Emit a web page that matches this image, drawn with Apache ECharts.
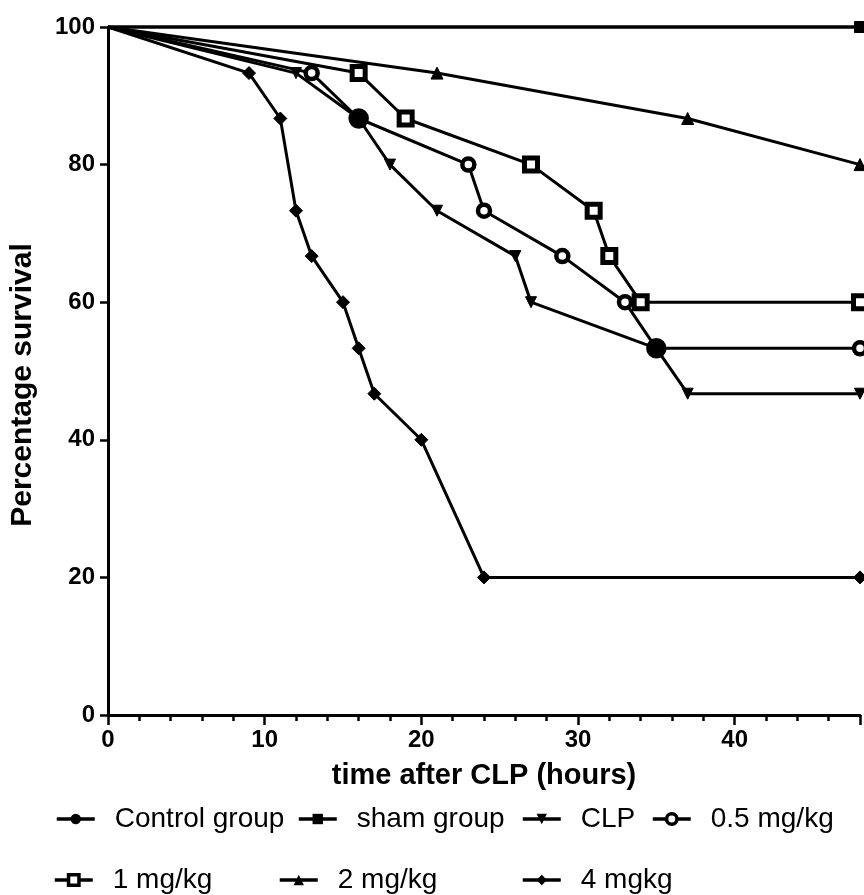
<!DOCTYPE html>
<html><head><meta charset="utf-8">
<script src="https://cdn.jsdelivr.net/npm/echarts@6/dist/echarts.min.js"></script>
<style>html,body{margin:0;padding:0;background:#fff}#c{width:864px;height:895px}</style>
</head><body><div id="c"></div>
<script>
var seriesNames = ['Control group','sham group','CLP','0.5 mg/kg','1 mg/kg','2 mg/kg','4 mgkg'];
var controlX = [0,48], controlY = [100,100];
var shamX = [0,48], shamY = [100,100];
var clpX = [0,12,16,18,21,26,27,35,37,48];
var clpY = [100,93.3,86.7,80,73.3,66.7,60,53.3,46.7,46.7];
var d05X = [0,13,16,23,24,29,33,35,48];
var d05Y = [100,93.3,86.7,80,73.3,66.7,60,53.3,53.3];
var d1X = [0,16,19,27,31,32,34,48];
var d1Y = [100,93.3,86.7,80,73.3,66.7,60,60];
var d2X = [0,21,37,48];
var d2Y = [100,93.3,86.7,80];
var d4X = [0,9,11,12,13,15,16,17,20,24,48];
var d4Y = [100,93.3,86.7,73.3,66.7,60,53.3,46.7,40,20,20];
var xTicks = [0,10,20,30,40];
var yTicks = [0,20,40,60,80,100];

var FONT = 'Liberation Sans, Arial, sans-serif';
function pts(xs, ys, overlapX, overlapY) {
  return xs.map(function (x, i) {
    var p = {value: [x, ys[i]]};
    if (i === 0) p.symbolSize = 0;
    if (overlapX) {
      for (var k = 0; k < overlapX.length; k++) {
        if (overlapX[k] === x && overlapY[k] === ys[i] && i > 0 && i < xs.length - 1) {
          p.itemStyle = {color: '#000'};
          p.symbolSize = 16;
        }
      }
    }
    return p;
  });
}
var lineStyle = {color: '#000', width: 3};
function mk(name, xs, ys, symbol, size, extra, ov) {
  var s = {
    name: name, type: 'line', data: pts(xs, ys, ov && ov[0], ov && ov[1]),
    symbol: symbol, symbolSize: size, clip: false,
    lineStyle: lineStyle, itemStyle: {color: '#000', borderColor: '#000'},
    animation: false, z: 3
  };
  if (extra) for (var k in extra) s[k] = extra[k];
  return s;
}
var series = [
  mk(seriesNames[0], controlX, controlY, 'circle', 10),
  mk(seriesNames[1], shamX, shamY, 'rect', 11),
  mk(seriesNames[2], clpX, clpY, 'triangle', 11, {symbolRotate: 180}),
  mk(seriesNames[3], d05X, d05Y, 'circle', 12, {itemStyle: {color: '#fff', borderColor: '#000', borderWidth: 4.5}}, [clpX, clpY]),
  mk(seriesNames[4], d1X, d1Y, 'rect', 13, {itemStyle: {color: '#fff', borderColor: '#000', borderWidth: 5}}),
  mk(seriesNames[5], d2X, d2Y, 'triangle', 12),
  mk(seriesNames[6], d4X, d4Y, 'diamond', 13)
];

var legendPos = [[55,805],[297,805],[521,805],[651,805],[53,866],[278,866],[521,866]];
var legendOpen = [false,false,false,true,true,false,false];
var legends = seriesNames.map(function (n, i) {
  return {
    data: [n], left: legendPos[i][0], top: legendPos[i][1], padding: 0,
    itemWidth: 38, itemHeight: 13, itemGap: 0,
    lineStyle: {width: 3.5, color: '#000'},
    itemStyle: legendOpen[i] ? {color: '#fff', borderColor: '#000', borderWidth: 3.5} : {color: '#000', borderWidth: 0},
    textStyle: {fontFamily: FONT, fontSize: 28, color: '#000', padding: [0,0,0,15]},
    selectedMode: false
  };
});

var chart = echarts.init(document.getElementById('c'), null, {renderer: 'canvas'});
chart.setOption({
  backgroundColor: '#fff',
  animation: false,
  grid: {left: 107, right: 4, top: 27, bottom: 180, containLabel: false},
  legend: legends,
  xAxis: {
    type: 'value', min: 0, max: 48, interval: 10,
    name: 'time after CLP (hours)', nameLocation: 'middle', nameGap: 46,
    nameTextStyle: {fontFamily: FONT, fontSize: 29, fontWeight: 'bold', color: '#000'},
    axisLine: {show: true, lineStyle: {color: '#000', width: 3}},
    axisTick: {show: true, length: 10, lineStyle: {color: '#000', width: 2.5}},
    minorTick: {show: true, splitNumber: 5, length: 6, lineStyle: {color: '#000', width: 2.5}},
    splitLine: {show: false},
    axisLabel: {fontFamily: FONT, fontSize: 24, fontWeight: 'bold', color: '#000', margin: 13,
      formatter: function (v) { return xTicks.indexOf(v) >= 0 ? String(v) : ''; }}
  },
  yAxis: {
    type: 'value', min: 0, max: 100, interval: 20,
    name: 'Percentage survival', nameLocation: 'middle', nameGap: 70,
    nameTextStyle: {fontFamily: FONT, fontSize: 30, fontWeight: 'bold', color: '#000', padding: [0, 28, 0, 0]},
    axisLine: {show: true, lineStyle: {color: '#000', width: 3}},
    axisTick: {show: true, length: 8, lineStyle: {color: '#000', width: 2.5}},
    splitLine: {show: false},
    axisLabel: {fontFamily: FONT, fontSize: 24, fontWeight: 'bold', color: '#000', margin: 13,
      formatter: function (v) { return yTicks.indexOf(v) >= 0 ? String(v) : ''; }}
  },
  series: series
});
</script></body></html>
